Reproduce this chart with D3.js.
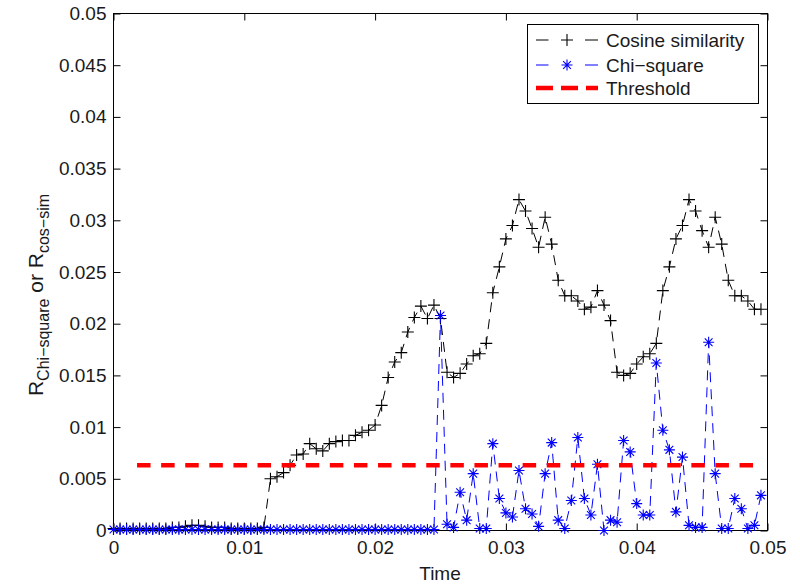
<!DOCTYPE html>
<html><head><meta charset="utf-8">
<script src="https://cdn.jsdelivr.net/npm/d3@7"></script>
<style>
body{margin:0;background:#fff}
svg{display:block}
text{font-family:"Liberation Sans",Arial,sans-serif;fill:#1a1a1a}
</style>
</head><body>
<svg id="c" width="800" height="586"></svg>
<script>
// ---- data ----
const time = d3.range(100).map(i => +(i * 0.0005).toFixed(4));
const cosSim = [
  0.0002,0.0002,0.0002,0.0002,0.0002,0.0002,0.0002,0.0002,0.0002,0.0003,
  0.0003,0.0004,0.0005,0.0005,0.0004,0.0003,0.0003,0.0003,0.0002,0.0002,
  0.0002,0.0002,0.0002,0.0003,0.0050,0.0052,0.0056,0.0063,0.0073,0.0074,
  0.0084,0.0079,0.0077,0.0084,0.0086,0.0087,0.0087,0.0092,0.0095,0.0097,
  0.0102,0.0121,0.0148,0.0163,0.0172,0.0192,0.0206,0.0217,0.0205,0.0218,
  0.0205,0.0153,0.0148,0.0152,0.0161,0.0169,0.0171,0.0181,0.0230,0.0255,
  0.0282,0.0295,0.0320,0.0309,0.0292,0.0274,0.0303,0.0277,0.0242,0.0227,
  0.0227,0.0222,0.0214,0.0216,0.0232,0.0218,0.0203,0.0153,0.0150,0.0152,
  0.0161,0.0168,0.0171,0.0181,0.0232,0.0255,0.0282,0.0295,0.0320,0.0309,
  0.0290,0.0274,0.0303,0.0277,0.0242,0.0227,0.0227,0.0222,0.0214,0.0214
];
const chiSquare = [
  0.0001,0.0001,0.0001,0.0001,0.0001,0.0001,0.0001,0.0001,0.0001,0.0001,
  0.0001,0.0001,0.0001,0.0001,0.0001,0.0001,0.0001,0.0001,0.0001,0.0001,
  0.0001,0.0001,0.0001,0.0001,0.0001,0.0001,0.0001,0.0001,0.0001,0.0001,
  0.0001,0.0001,0.0001,0.0001,0.0001,0.0001,0.0001,0.0001,0.0001,0.0001,
  0.0001,0.0001,0.0001,0.0001,0.0001,0.0001,0.0001,0.0001,0.0001,0.0001,
  0.0208,0.0006,0.0003,0.0037,0.0010,0.0055,0.0002,0.0002,0.0084,0.0031,
  0.0017,0.0013,0.0058,0.0021,0.0016,0.0004,0.0055,0.0085,0.0010,0.0002,
  0.0029,0.0090,0.0031,0.0015,0.0064,0.0000,0.0010,0.0008,0.0087,0.0076,
  0.0026,0.0015,0.0015,0.0162,0.0097,0.0078,0.0018,0.0071,0.0005,0.0003,
  0.0003,0.0182,0.0055,0.0002,0.0002,0.0031,0.0021,0.0002,0.0005,0.0034
];
const thresholdValue = 0.0063;
const thresholdSpan = [0.0018, 0.0495];
const xTicks = [0, 0.01, 0.02, 0.03, 0.04, 0.05];
const xTickLabels = ["0", "0.01", "0.02", "0.03", "0.04", "0.05"];
const yTicks = [0, 0.005, 0.01, 0.015, 0.02, 0.025, 0.03, 0.035, 0.04, 0.045, 0.05];
const yTickLabels = ["0", "0.005", "0.01", "0.015", "0.02", "0.025", "0.03", "0.035", "0.04", "0.045", "0.05"];
const legendLabels = ["Cosine similarity", "Chi\u2212square", "Threshold"];

// ---- layout ----
const svg = d3.select("#c");
const L = 113.5, R = 767.5, T = 13.5, B = 530.5;
const x = d3.scaleLinear().domain([0, 0.05]).range([L, R]);
const y = d3.scaleLinear().domain([0, 0.05]).range([B, T]);
const FS = 19;

// axes
const gx = svg.append("g").attr("transform", `translate(0,${B})`)
  .call(d3.axisBottom(x).tickValues(xTicks).tickFormat((d, i) => xTickLabels[i])
    .tickSizeInner(-7).tickSizeOuter(0).tickPadding(10));
const gxt = svg.append("g").attr("transform", `translate(0,${T})`)
  .call(d3.axisTop(x).tickValues(xTicks).tickFormat("").tickSizeInner(-7).tickSizeOuter(0));
const gy = svg.append("g").attr("transform", `translate(${L},0)`)
  .call(d3.axisLeft(y).tickValues(yTicks).tickFormat((d, i) => yTickLabels[i])
    .tickSizeInner(-7).tickSizeOuter(0).tickPadding(7));
const gyr = svg.append("g").attr("transform", `translate(${R},0)`)
  .call(d3.axisRight(y).tickValues(yTicks).tickFormat("").tickSizeInner(-7).tickSizeOuter(0));
[gx, gxt, gy, gyr].forEach(g => {
  g.select(".domain").remove();
  g.selectAll(".tick line").attr("stroke", "#000");
  g.selectAll("text").attr("font-size", FS).attr("fill", "#1a1a1a")
    .attr("font-family", '"Liberation Sans",Arial,sans-serif');
});
svg.append("rect").attr("x", L).attr("y", T).attr("width", R - L).attr("height", B - T)
  .attr("fill", "none").attr("stroke", "#000").attr("stroke-width", 1);

// marker shapes
const plusPath = "M-6,0H6M0,-6V6";
const starPath = "M-5.5,0H5.5M0,-5.5V5.5M-3.9,-3.9L3.9,3.9M-3.9,3.9L3.9,-3.9";

const idx = d3.range(time.length);
const plot = svg.append("g");

// cosine similarity
plot.append("path")
  .attr("d", d3.line().x(i => x(time[i])).y(i => y(cosSim[i]))(idx))
  .attr("fill", "none").attr("stroke", "#000").attr("stroke-width", 1)
  .attr("stroke-dasharray", "10,7");
plot.append("g").selectAll("path").data(idx).join("path")
  .attr("transform", i => `translate(${x(time[i])},${y(cosSim[i])})`)
  .attr("d", plusPath).attr("stroke", "#000").attr("stroke-width", 1.1).attr("fill", "none");

// chi-square
plot.append("path")
  .attr("d", d3.line().x(i => x(time[i])).y(i => y(chiSquare[i]))(idx))
  .attr("fill", "none").attr("stroke", "#0000ff").attr("stroke-width", 1)
  .attr("stroke-dasharray", "10,7");
plot.append("g").selectAll("path").data(idx).join("path")
  .attr("transform", i => `translate(${x(time[i])},${y(chiSquare[i])})`)
  .attr("d", starPath).attr("stroke", "#0000ff").attr("stroke-width", 1.1).attr("fill", "none");

// threshold
plot.append("line")
  .attr("x1", x(thresholdSpan[0])).attr("x2", x(thresholdSpan[1]))
  .attr("y1", y(thresholdValue)).attr("y2", y(thresholdValue))
  .attr("stroke", "#ff0000").attr("stroke-width", 4.5)
  .attr("stroke-dasharray", "13.5,10.6");

// axis titles
svg.append("text").attr("x", 440).attr("y", 580).attr("text-anchor", "middle")
  .attr("font-size", FS).text("Time");
const yt = svg.append("text").attr("transform", "translate(43,295) rotate(-90)")
  .attr("text-anchor", "middle").attr("font-size", 21);
yt.append("tspan").text("R");
yt.append("tspan").attr("font-size", 16).attr("dy", 6).text("Chi\u2212square");
yt.append("tspan").attr("dy", -6).text(" or R");
yt.append("tspan").attr("font-size", 16).attr("dy", 6).text("cos\u2212sim");

// legend
const lg = svg.append("g");
lg.append("rect").attr("x", 527.5).attr("y", 24.5).attr("width", 231).attr("height", 79)
  .attr("fill", "#fff").attr("stroke", "#000").attr("stroke-width", 1);
const rows = [40, 65, 88];
const lx0 = 536, lx1 = 598, lxm = 567;
// row 1
lg.append("line").attr("x1", lx0).attr("x2", lx1).attr("y1", rows[0]).attr("y2", rows[0])
  .attr("stroke", "#000").attr("stroke-width", 1).attr("stroke-dasharray", "12.5,36.5,13,50");
lg.append("path").attr("transform", `translate(${lxm},${rows[0]})`).attr("d", plusPath)
  .attr("stroke", "#000").attr("stroke-width", 1.1);
// row 2
lg.append("line").attr("x1", lx0).attr("x2", lx1).attr("y1", rows[1]).attr("y2", rows[1])
  .attr("stroke", "#0000ff").attr("stroke-width", 1).attr("stroke-dasharray", "12.5,36.5,13,50");
lg.append("path").attr("transform", `translate(${lxm},${rows[1]})`).attr("d", starPath)
  .attr("stroke", "#0000ff").attr("stroke-width", 1.1);
// row 3
lg.append("line").attr("x1", lx0).attr("x2", lx1).attr("y1", rows[2]).attr("y2", rows[2])
  .attr("stroke", "#ff0000").attr("stroke-width", 4.5).attr("stroke-dasharray", "17,8");
legendLabels.forEach((t, i) => {
  lg.append("text").attr("x", 606).attr("y", rows[i]).attr("dy", "0.36em")
    .attr("font-size", FS).text(t);
});
</script>
</body></html>
